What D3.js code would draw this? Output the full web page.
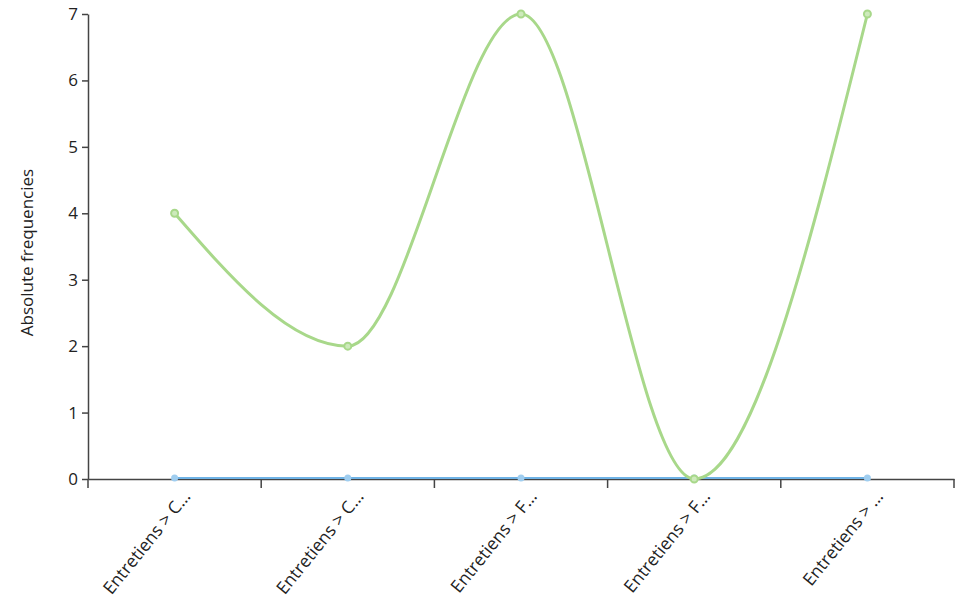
<!DOCTYPE html>
<html><head><meta charset="utf-8">
<script src="https://cdn.jsdelivr.net/npm/d3@7"></script>
<style>body{margin:0;background:#fff;} text{font-family:"Open Sans","Noto Sans",sans-serif;}</style>
</head><body>
<svg id="c" width="961" height="602"></svg>
<script>
const categories = ["Entretiens > C\u2026","Entretiens > C\u2026","Entretiens > F\u2026","Entretiens > F\u2026","Entretiens > \u2026"];
const seriesGreen = [4,2,7,0,7];
const seriesBlue = [0,0,0,0,0];
const yTicks = [0,1,2,3,4,5,6,7];
const yLabel = "Absolute frequencies";

const svg = d3.select("#c");
const m = {l:88, r:7, t:14, b:123};
const W = 961, H = 602;
const x = d3.scaleBand().domain(d3.range(categories.length)).range([m.l, W - m.r]);
const y = d3.scaleLinear().domain([0,7]).range([H - m.b, m.t]);

// y axis
const ya = svg.append("g").attr("transform",`translate(${m.l},0)`)
  .call(d3.axisLeft(y).tickValues(yTicks).tickSize(6).tickSizeOuter(0).tickFormat(d3.format("d")));
ya.attr("font-size",null);
ya.select(".domain").attr("stroke","#444").attr("stroke-width",1.5);
ya.selectAll(".tick line").attr("stroke","#444").attr("stroke-width",1.5);
ya.selectAll(".tick text").style("font-size","17px").attr("fill","#222").attr("x",-10);

svg.append("text").attr("transform",`translate(33,${(m.t + H - m.b)/2 + 6}) rotate(-90)`)
  .attr("text-anchor","middle").style("font-size","17px").attr("fill","#222").text(yLabel);

// x axis
const xa = svg.append("g").attr("transform",`translate(0,${H - m.b})`)
  .call(d3.axisBottom(x).tickSize(0).tickFormat(i => categories[i]));
xa.attr("font-size",null);
xa.select(".domain").attr("stroke","#444").attr("stroke-width",1.5);
xa.selectAll(".tick text").style("font-size","17.5px").attr("fill","#222")
  .attr("text-anchor","end").attr("dy","0.35em")
  .attr("transform","translate(12,14) rotate(-51)").attr("x",0).attr("y",0);
// boundary ticks
const bounds = d3.range(categories.length + 1).map(i => m.l + i * x.step());
xa.selectAll(".btick").data(bounds).enter().append("line")
  .attr("x1",d=>d).attr("x2",d=>d).attr("y1",0).attr("y2",9)
  .attr("stroke","#444").attr("stroke-width",1.5);

const cx = i => x(i) + x.bandwidth()/2;
const line = d3.line().x((d,i)=>cx(i)).y(d=>y(d)).curve(d3.curveMonotoneX);

svg.append("path").datum(seriesBlue).attr("d", line).attr("transform","translate(0,-1)")
  .attr("fill","none").attr("stroke","#6fb3e6").attr("stroke-width",2);
svg.selectAll(".pb").data(seriesBlue).enter().append("circle")
  .attr("cx",(d,i)=>cx(i)).attr("cy",d=>y(d)-1).attr("r",3.5).attr("fill","#9fcdef");

svg.append("path").datum(seriesGreen).attr("d", line)
  .attr("fill","none").attr("stroke","#a8d88a").attr("stroke-width",3);
svg.selectAll(".pg").data(seriesGreen).enter().append("circle")
  .attr("cx",(d,i)=>cx(i)).attr("cy",d=>y(d)).attr("r",3.5)
  .attr("fill","#cdeabb").attr("stroke","#a8d88a").attr("stroke-width",2);
</script>
</body></html>
